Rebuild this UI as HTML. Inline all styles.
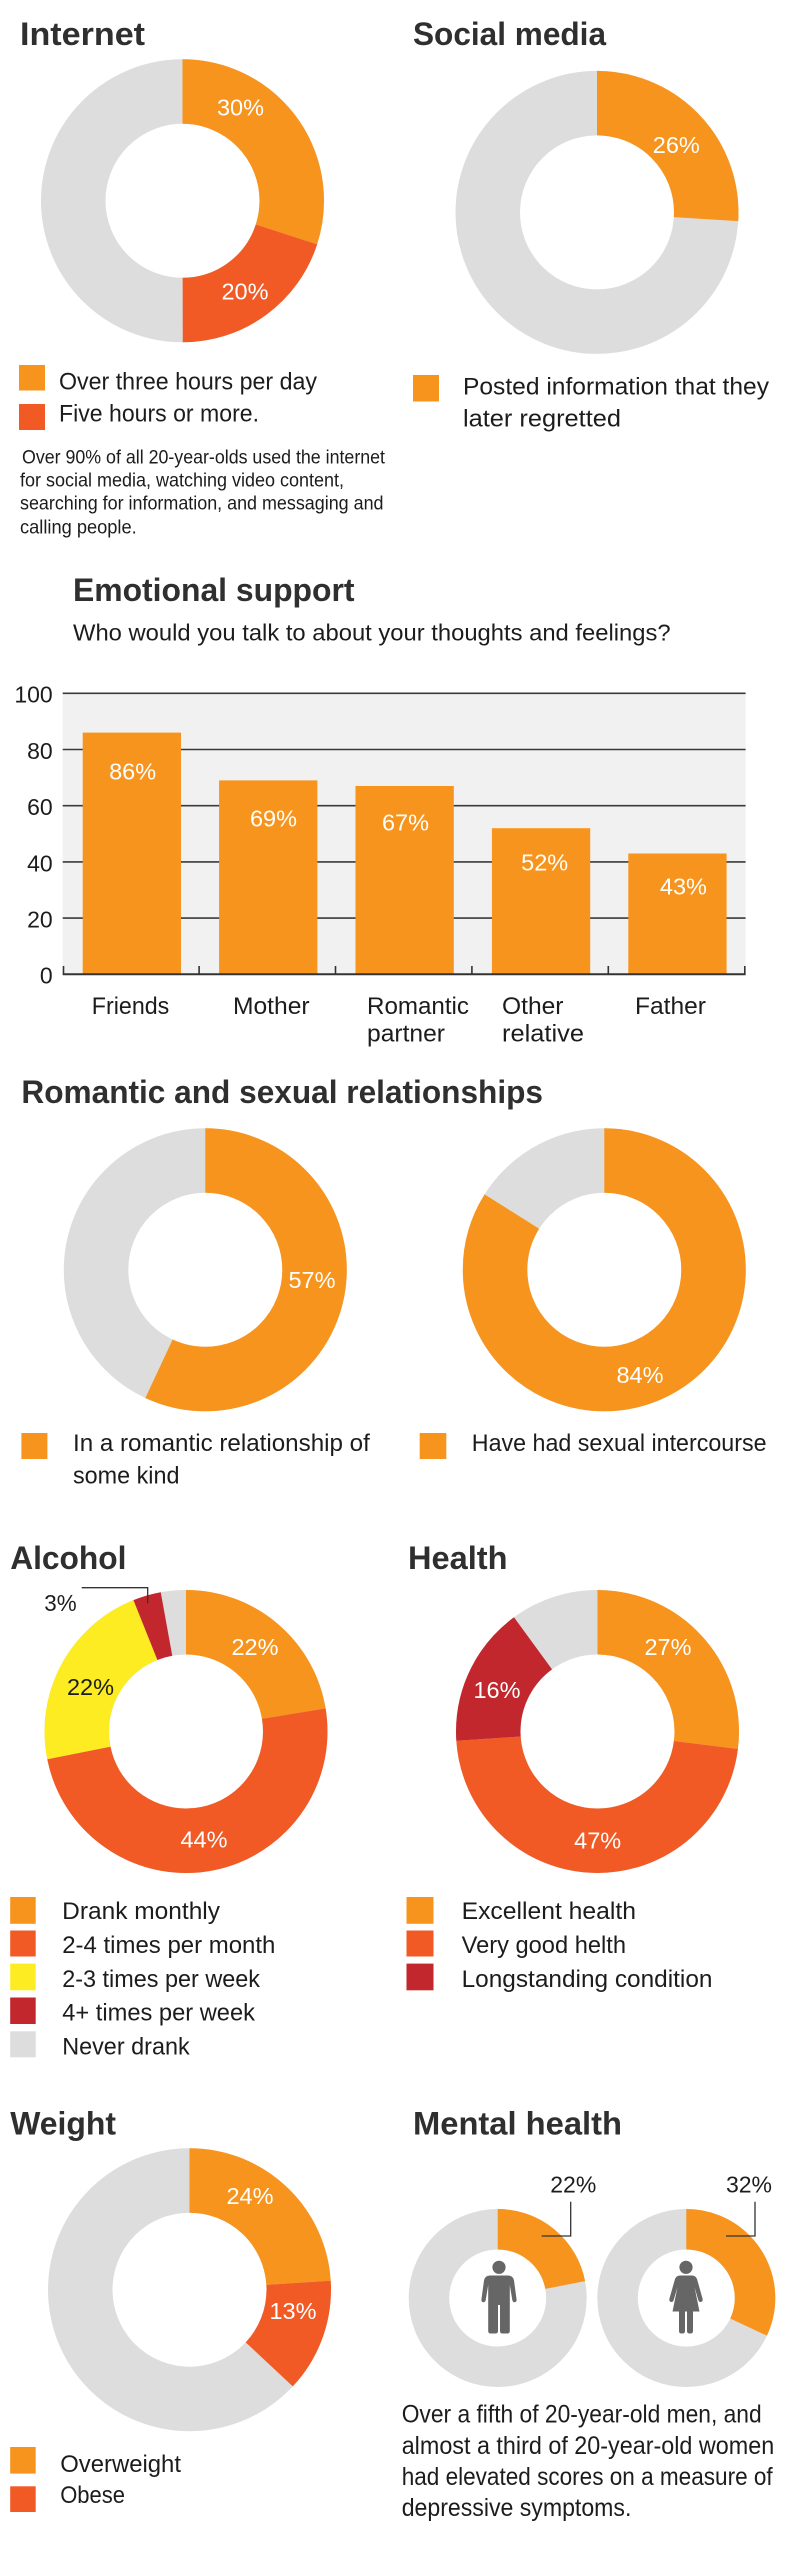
<!DOCTYPE html>
<html><head><meta charset="utf-8"><style>
html,body{margin:0;padding:0;background:#fff}
svg{display:block}
.t{font-family:"Liberation Sans",Arial,sans-serif;font-weight:bold;font-size:32px;fill:#2f2f2f}
.b{font-family:"Liberation Sans",Arial,sans-serif;font-size:24px;fill:#1c1c1c}
.n{font-family:"Liberation Sans",Arial,sans-serif;font-size:19.4px;fill:#1c1c1c}
.m{font-family:"Liberation Sans",Arial,sans-serif;font-size:25px;fill:#1c1c1c}
.w{font-family:"Liberation Sans",Arial,sans-serif;font-size:23.5px;fill:#fff;text-anchor:middle}
.k{font-family:"Liberation Sans",Arial,sans-serif;font-size:23.5px;fill:#1c1c1c;text-anchor:middle}
.y{font-family:"Liberation Sans",Arial,sans-serif;font-size:23px;fill:#1c1c1c;text-anchor:end}
</style></head><body>
<svg width="800" height="2554" viewBox="0 0 800 2554" xmlns="http://www.w3.org/2000/svg">
<rect x="0" y="0" width="800" height="2554" fill="#fff"/>

<!-- ===== Internet ===== -->
<text class="t" x="20" y="45" textLength="125" lengthAdjust="spacingAndGlyphs">Internet</text>
<g fill="none" stroke-width="64.5" transform="rotate(-90 182.5 200.8)">
<circle cx="182.5" cy="200.8" r="109.25" stroke="#DDDDDD"/>
<circle cx="182.5" cy="200.8" r="109.25" stroke="#F7941D" pathLength="100" stroke-dasharray="30 100" stroke-dashoffset="0"/>
<circle cx="182.5" cy="200.8" r="109.25" stroke="#F15A24" pathLength="100" stroke-dasharray="20 100" stroke-dashoffset="-30"/>
</g>
<text class="w" x="240.5" y="115.3">30%</text>
<text class="w" x="245" y="299.3">20%</text>

<rect x="19" y="365" width="26" height="25.5" fill="#F7941D"/>
<rect x="19" y="404" width="26" height="26" fill="#F15A24"/>
<text class="b" x="59" y="389.3" textLength="258" lengthAdjust="spacingAndGlyphs">Over three hours per day</text>
<text class="b" x="59" y="421.7" textLength="200" lengthAdjust="spacingAndGlyphs">Five hours or more.</text>

<text class="n" x="22" y="463.3" textLength="363" lengthAdjust="spacingAndGlyphs">Over 90% of all 20-year-olds used the internet</text>
<text class="n" x="20" y="486.7" textLength="324" lengthAdjust="spacingAndGlyphs">for social media, watching video content,</text>
<text class="n" x="20" y="509.3" textLength="363.5" lengthAdjust="spacingAndGlyphs">searching for information, and messaging and</text>
<text class="n" x="20" y="533.3" textLength="116.7" lengthAdjust="spacingAndGlyphs">calling people.</text>

<!-- ===== Social media ===== -->
<text class="t" x="413" y="45" textLength="193" lengthAdjust="spacingAndGlyphs">Social media</text>
<g fill="none" stroke-width="64.5" transform="rotate(-90 597 212.4)">
<circle cx="597" cy="212.4" r="109.25" stroke="#DDDDDD"/>
<circle cx="597" cy="212.4" r="109.25" stroke="#F7941D" pathLength="100" stroke-dasharray="26 100" stroke-dashoffset="0"/>
</g>
<text class="w" x="676.3" y="153">26%</text>

<rect x="413" y="375" width="26" height="26.5" fill="#F7941D"/>
<text class="b" x="463" y="394.5" textLength="306" lengthAdjust="spacingAndGlyphs">Posted information that they</text>
<text class="b" x="463" y="426.6" textLength="158" lengthAdjust="spacingAndGlyphs">later regretted</text>

<!-- ===== Emotional support ===== -->
<text class="t" x="73" y="601" textLength="281.5" lengthAdjust="spacingAndGlyphs">Emotional support</text>
<text class="b" x="73" y="640.4" style="font-size:23.5px" textLength="597.6" lengthAdjust="spacingAndGlyphs">Who would you talk to about your thoughts and feelings?</text>

<rect x="62.7" y="693.3" width="682.9" height="281" fill="#F1F1F1"/>
<g stroke="#3a3a3a" stroke-width="1.6">
<line x1="62.7" y1="693.3" x2="745.6" y2="693.3"/>
<line x1="62.7" y1="749.5" x2="745.6" y2="749.5"/>
<line x1="62.7" y1="805.7" x2="745.6" y2="805.7"/>
<line x1="62.7" y1="861.9" x2="745.6" y2="861.9"/>
<line x1="62.7" y1="918.1" x2="745.6" y2="918.1"/>
</g>
<g fill="#F7941D">
<rect x="82.7" y="732.6" width="98.3" height="241.7"/>
<rect x="219.1" y="780.4" width="98.3" height="193.9"/>
<rect x="355.5" y="786.0" width="98.3" height="188.3"/>
<rect x="491.9" y="828.2" width="98.3" height="146.1"/>
<rect x="628.3" y="853.5" width="98.3" height="120.8"/>
</g>
<g stroke="#333" stroke-width="1.6">
<line x1="62.7" y1="974.3" x2="745.6" y2="974.3" stroke-width="2"/>
<line x1="63.5" y1="966" x2="63.5" y2="974.3"/>
<line x1="199.1" y1="966" x2="199.1" y2="974.3"/>
<line x1="335.5" y1="966" x2="335.5" y2="974.3"/>
<line x1="471.9" y1="966" x2="471.9" y2="974.3"/>
<line x1="608.3" y1="966" x2="608.3" y2="974.3"/>
<line x1="744.8" y1="966" x2="744.8" y2="974.3"/>
</g>
<text class="y" x="52.7" y="702.7">100</text>
<text class="y" x="52.7" y="758.9">80</text>
<text class="y" x="52.7" y="815.1">60</text>
<text class="y" x="52.7" y="871.3">40</text>
<text class="y" x="52.7" y="927.5">20</text>
<text class="y" x="52.7" y="983.7">0</text>

<text class="w" x="132.6" y="779.3">86%</text>
<text class="w" x="273.5" y="826.3">69%</text>
<text class="w" x="405.5" y="830.3">67%</text>
<text class="w" x="544.7" y="870.3">52%</text>
<text class="w" x="683.4" y="894.3">43%</text>

<text class="b" x="91.8" y="1014" textLength="77.5" lengthAdjust="spacingAndGlyphs">Friends</text>
<text class="b" x="233" y="1014" textLength="76.6" lengthAdjust="spacingAndGlyphs">Mother</text>
<text class="b" x="367" y="1014" textLength="102" lengthAdjust="spacingAndGlyphs">Romantic</text>
<text class="b" x="367" y="1041.6" textLength="78" lengthAdjust="spacingAndGlyphs">partner</text>
<text class="b" x="502" y="1014" textLength="61.5" lengthAdjust="spacingAndGlyphs">Other</text>
<text class="b" x="502" y="1041.6" textLength="82" lengthAdjust="spacingAndGlyphs">relative</text>
<text class="b" x="635" y="1014" textLength="71" lengthAdjust="spacingAndGlyphs">Father</text>

<!-- ===== Romantic and sexual ===== -->
<text class="t" x="21.4" y="1103" textLength="521.6" lengthAdjust="spacingAndGlyphs">Romantic and sexual relationships</text>
<g fill="none" stroke-width="64.5" transform="rotate(-90 205.3 1269.8)">
<circle cx="205.3" cy="1269.8" r="109.25" stroke="#DDDDDD"/>
<circle cx="205.3" cy="1269.8" r="109.25" stroke="#F7941D" pathLength="100" stroke-dasharray="57 100" stroke-dashoffset="0"/>
</g>
<text class="w" x="312" y="1288">57%</text>
<g fill="none" stroke-width="64.5" transform="rotate(-90 604.3 1269.8)">
<circle cx="604.3" cy="1269.8" r="109.25" stroke="#DDDDDD"/>
<circle cx="604.3" cy="1269.8" r="109.25" stroke="#F7941D" pathLength="100" stroke-dasharray="84 100" stroke-dashoffset="0"/>
</g>
<text class="w" x="640" y="1383">84%</text>

<rect x="21.4" y="1433" width="26" height="26" fill="#F7941D"/>
<text class="b" x="73" y="1451" textLength="296.8" lengthAdjust="spacingAndGlyphs">In a romantic relationship of</text>
<text class="b" x="73" y="1483.6" textLength="106.5" lengthAdjust="spacingAndGlyphs">some kind</text>
<rect x="419.7" y="1433" width="26.6" height="26" fill="#F7941D"/>
<text class="b" x="471.8" y="1451" textLength="294.7" lengthAdjust="spacingAndGlyphs">Have had sexual intercourse</text>

<!-- ===== Alcohol ===== -->
<text class="t" x="10.2" y="1569" textLength="116.3" lengthAdjust="spacingAndGlyphs">Alcohol</text>
<g fill="none" stroke-width="64.5" transform="rotate(-90 186 1731.5)">
<circle cx="186" cy="1731.5" r="109.25" stroke="#DDDDDD"/>
<circle cx="186" cy="1731.5" r="109.25" stroke="#F7941D" pathLength="100" stroke-dasharray="22.4 100" stroke-dashoffset="0"/>
<circle cx="186" cy="1731.5" r="109.25" stroke="#F15A24" pathLength="100" stroke-dasharray="49.5 100" stroke-dashoffset="-22.4"/>
<circle cx="186" cy="1731.5" r="109.25" stroke="#FCEC21" pathLength="100" stroke-dasharray="22.1 100" stroke-dashoffset="-71.9"/>
<circle cx="186" cy="1731.5" r="109.25" stroke="#C1272D" pathLength="100" stroke-dasharray="3.2 100" stroke-dashoffset="-94"/>
</g>
<text class="w" x="255" y="1655">22%</text>
<text class="k" x="90.5" y="1695">22%</text>
<text class="w" x="204" y="1847.3">44%</text>
<text class="b" x="44.3" y="1611" style="font-size:23.5px" textLength="32.4" lengthAdjust="spacingAndGlyphs">3%</text>
<polyline points="81.7,1587.7 147.7,1587.7 147.7,1603.3" fill="none" stroke="#333" stroke-width="1.3"/>

<rect x="10.2" y="1897" width="25.5" height="26.8" fill="#F7941D"/>
<rect x="10.2" y="1930.5" width="25.5" height="26" fill="#F15A24"/>
<rect x="10.2" y="1963.6" width="25.5" height="26.7" fill="#FCEC21"/>
<rect x="10.2" y="1997.5" width="25.5" height="26.5" fill="#C1272D"/>
<rect x="10.2" y="2031.3" width="25.5" height="26" fill="#DDDDDD"/>
<text class="b" x="62.2" y="1919.1" textLength="157.8" lengthAdjust="spacingAndGlyphs">Drank monthly</text>
<text class="b" x="62.2" y="1953" textLength="213.2" lengthAdjust="spacingAndGlyphs">2-4 times per month</text>
<text class="b" x="62.2" y="1986.8" textLength="197.8" lengthAdjust="spacingAndGlyphs">2-3 times per week</text>
<text class="b" x="62.2" y="2020.6" textLength="192.8" lengthAdjust="spacingAndGlyphs">4+ times per week</text>
<text class="b" x="62.2" y="2054.4" textLength="127.5" lengthAdjust="spacingAndGlyphs">Never drank</text>

<!-- ===== Health ===== -->
<text class="t" x="408" y="1569" textLength="99.5" lengthAdjust="spacingAndGlyphs">Health</text>
<g fill="none" stroke-width="64.5" transform="rotate(-90 597.5 1731.5)">
<circle cx="597.5" cy="1731.5" r="109.25" stroke="#DDDDDD"/>
<circle cx="597.5" cy="1731.5" r="109.25" stroke="#F7941D" pathLength="100" stroke-dasharray="27 100" stroke-dashoffset="0"/>
<circle cx="597.5" cy="1731.5" r="109.25" stroke="#F15A24" pathLength="100" stroke-dasharray="47 100" stroke-dashoffset="-27"/>
<circle cx="597.5" cy="1731.5" r="109.25" stroke="#C1272D" pathLength="100" stroke-dasharray="16 100" stroke-dashoffset="-74"/>
</g>
<text class="w" x="668" y="1655">27%</text>
<text class="w" x="597.7" y="1848.3">47%</text>
<text class="w" x="497" y="1697.8">16%</text>

<rect x="406.5" y="1897" width="27" height="26.8" fill="#F7941D"/>
<rect x="406.5" y="1930.5" width="27" height="26" fill="#F15A24"/>
<rect x="406.5" y="1963.6" width="27" height="26.7" fill="#C1272D"/>
<text class="b" x="461.6" y="1919.1" textLength="174.4" lengthAdjust="spacingAndGlyphs">Excellent health</text>
<text class="b" x="461.6" y="1953" textLength="164.4" lengthAdjust="spacingAndGlyphs">Very good helth</text>
<text class="b" x="461.6" y="1986.8" textLength="250.9" lengthAdjust="spacingAndGlyphs">Longstanding condition</text>

<!-- ===== Weight ===== -->
<text class="t" x="10.2" y="2134.6" textLength="105.8" lengthAdjust="spacingAndGlyphs">Weight</text>
<g fill="none" stroke-width="64.5" transform="rotate(-90 189.5 2289.7)">
<circle cx="189.5" cy="2289.7" r="109.25" stroke="#DDDDDD"/>
<circle cx="189.5" cy="2289.7" r="109.25" stroke="#F7941D" pathLength="100" stroke-dasharray="24 100" stroke-dashoffset="0"/>
<circle cx="189.5" cy="2289.7" r="109.25" stroke="#F15A24" pathLength="100" stroke-dasharray="13 100" stroke-dashoffset="-24"/>
</g>
<text class="w" x="250" y="2204">24%</text>
<text class="w" x="293" y="2319">13%</text>

<rect x="10.2" y="2447" width="25.5" height="26.6" fill="#F7941D"/>
<rect x="10.2" y="2486.3" width="25.5" height="25.7" fill="#F15A24"/>
<text class="b" x="60.2" y="2472" textLength="120.8" lengthAdjust="spacingAndGlyphs">Overweight</text>
<text class="b" x="60.2" y="2503" textLength="64.8" lengthAdjust="spacingAndGlyphs">Obese</text>

<!-- ===== Mental health ===== -->
<text class="t" x="413" y="2134.6" textLength="209" lengthAdjust="spacingAndGlyphs">Mental health</text>
<g fill="none" stroke-width="40.5" transform="rotate(-90 497.7 2298)">
<circle cx="497.7" cy="2298" r="68.75" stroke="#DDDDDD"/>
<circle cx="497.7" cy="2298" r="68.75" stroke="#F7941D" pathLength="100" stroke-dasharray="22 100" stroke-dashoffset="0"/>
</g>
<g fill="none" stroke-width="40.5" transform="rotate(-90 686.3 2298)">
<circle cx="686.3" cy="2298" r="68.75" stroke="#DDDDDD"/>
<circle cx="686.3" cy="2298" r="68.75" stroke="#F7941D" pathLength="100" stroke-dasharray="32 100" stroke-dashoffset="0"/>
</g>
<text class="k" x="573.3" y="2192.7" style="font-size:23px">22%</text>
<text class="k" x="749" y="2192.7" style="font-size:23px">32%</text>
<polyline points="570.7,2201.7 570.7,2236 541.7,2236" fill="none" stroke="#333" stroke-width="1.3"/>
<polyline points="755,2201.7 755,2236 726,2236" fill="none" stroke="#333" stroke-width="1.3"/>

<!-- male icon -->
<circle cx="499" cy="2267.3" r="6.6" fill="#666"/>
<path fill="#666" d="M 490,2275.5 H 508 Q 513,2275.5 514,2280.5 L 516.5,2299 Q 517,2302 514.8,2302.2 Q 512.8,2302.4 512.3,2300 L 509.8,2285 V 2331 Q 509.8,2333.5 507.3,2333.5 H 502.5 Q 500,2333.5 500,2331 V 2305 H 498 V 2331 Q 498,2333.5 495.5,2333.5 H 490.7 Q 488.2,2333.5 488.2,2331 V 2285 L 485.7,2300 Q 485.2,2302.4 483.2,2302.2 Q 481,2302 481.5,2299 L 484,2280.5 Q 485,2275.5 490,2275.5 Z"/>
<!-- female icon -->
<circle cx="686" cy="2267.3" r="6.6" fill="#666"/>
<path fill="#666" d="M 680,2275.5 H 692 Q 695.5,2275.5 697,2279 L 702.5,2298.5 Q 703.2,2301.5 701,2302 Q 699,2302.4 698.3,2300 L 694.5,2287 L 699.5,2311.5 H 693 V 2331 Q 693,2333.5 690.5,2333.5 H 689.5 Q 687,2333.5 687,2331 V 2311.5 H 685 V 2331 Q 685,2333.5 682.5,2333.5 H 681.5 Q 679,2333.5 679,2331 V 2311.5 H 672.5 L 677.5,2287 L 673.7,2300 Q 673,2302.4 671,2302 Q 668.8,2301.5 669.5,2298.5 L 675,2279 Q 676.5,2275.5 680,2275.5 Z"/>

<text class="m" x="401.7" y="2422.5" textLength="360" lengthAdjust="spacingAndGlyphs">Over a fifth of 20-year-old men, and</text>
<text class="m" x="401.7" y="2454" textLength="372.5" lengthAdjust="spacingAndGlyphs">almost a third of 20-year-old women</text>
<text class="m" x="401.7" y="2485" textLength="371" lengthAdjust="spacingAndGlyphs">had elevated scores on a measure of</text>
<text class="m" x="401.7" y="2516" textLength="229.7" lengthAdjust="spacingAndGlyphs">depressive symptoms.</text>
</svg>
</body></html>
